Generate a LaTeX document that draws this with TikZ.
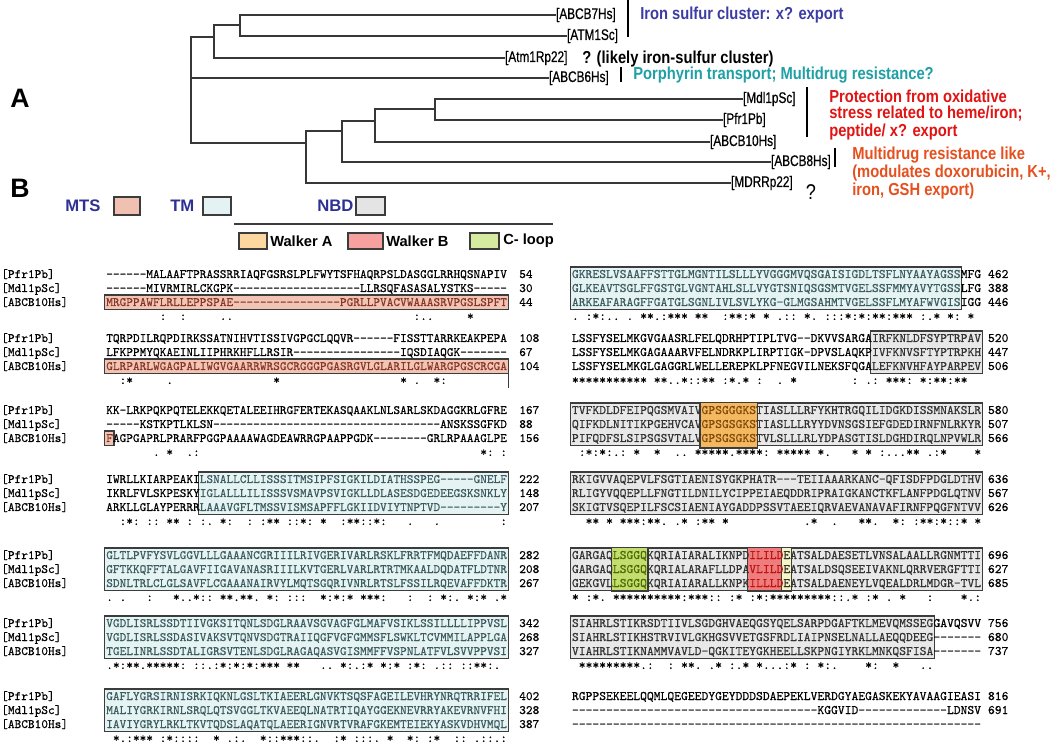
\documentclass[tikz,border=0pt]{standalone}
\usepackage{fontspec}
\setmonofont{Latin Modern Mono}[FakeBold=0.45]
\setsansfont{Liberation Sans}
\newfontfamily\nsf{Liberation Sans}[FakeStretch=0.85]
\newfontfamily\nsfc{Liberation Sans}[FakeStretch=0.77,FakeBold=0.6]
\ExplSyntaxOn
\cs_new:Npn \Dsh #1 { \prg_replicate:nn {#1} {-} }
\ExplSyntaxOff
\definecolor{treeC}{RGB}{55,55,55}
\definecolor{boxC}{RGB}{60,60,60}
\definecolor{cMtsF}{RGB}{242,196,180}
\definecolor{cMtsT}{RGB}{135,55,40}
\definecolor{cTmF}{RGB}{230,243,243}
\definecolor{cTmT}{RGB}{60,92,96}
\definecolor{cNbdF}{RGB}{232,232,232}
\definecolor{cNbdT}{RGB}{50,50,50}
\definecolor{cWaF}{RGB}{243,184,96}
\definecolor{cWaT}{RGB}{130,75,10}
\definecolor{cWbF}{RGB}{240,125,125}
\definecolor{cWbT}{RGB}{190,20,20}
\definecolor{cClF}{RGB}{195,222,110}
\definecolor{cClT}{RGB}{75,105,0}
\definecolor{cYeF}{RGB}{246,246,196}
\definecolor{lgMTS}{RGB}{240,192,176}
\definecolor{lgTM}{RGB}{228,242,244}
\definecolor{lgNBD}{RGB}{228,228,228}
\definecolor{lgWA}{RGB}{253,215,160}
\definecolor{lgWB}{RGB}{247,160,160}
\definecolor{lgCL}{RGB}{215,235,160}
\definecolor{legB}{RGB}{46,49,146}
\definecolor{annBlue}{RGB}{60,60,165}
\definecolor{annTeal}{RGB}{30,160,165}
\definecolor{annRed}{RGB}{225,20,20}
\definecolor{annOr}{RGB}{230,80,30}
\def\XL{106}\def\cwL{6.68}
\def\XR{571.7}\def\cwR{6.82}
\newcounter{tn}
\newcommand\sL[4][]{\stepcounter{tn}\node[sqL,#1] (t\arabic{tn}) at ({\XL+(#2-1)*\cwL},{#3+4}) {#4};}
\newcommand\sR[4][]{\stepcounter{tn}\node[sqR,#1] (t\arabic{tn}) at ({\XR+(#2-1)*\cwR},{#3+4}) {#4};}
\newcommand\numL[2]{\stepcounter{tn}\node[sqL] (t\arabic{tn}) at (519,{#1+4}) {#2};}
\newcommand\numR[2]{\stepcounter{tn}\node[sqR] (t\arabic{tn}) at ({\XR+61*\cwR},{#1+4}) {#2};}
\newcommand\nmsL[1]{%
 \stepcounter{tn}\node[sqL] (t\arabic{tn}) at (1,{#1+4}) {[Pfr1Pb]};
 \stepcounter{tn}\node[sqL] (t\arabic{tn}) at (1,{#1+18}) {[Mdl1pSc]};
 \stepcounter{tn}\node[sqL] (t\arabic{tn}) at (1,{#1+32}) {[ABCB10Hs]};}
\newcommand\cL[2]{\foreach \cA/\sA in {#2}{\stepcounter{tn}\node[sqL] (t\arabic{tn}) at ({\XL+(\cA-1)*\cwL},{#1+4}) {\sA};}}
\newcommand\cR[2]{\foreach \cA/\sA in {#2}{\stepcounter{tn}\node[sqR] (t\arabic{tn}) at ({\XR+(\cA-1)*\cwR},{#1+4}) {\sA};}}
\newcommand\bL[5]{\path[#1] ({\XL+(#2-1)*\cwL-1.3},{#4}) rectangle ({\XL+#3*\cwL+1.3},{#5});}
\newcommand\bR[5]{\path[#1] ({\XR+(#2-1)*\cwR-1.3},{#4}) rectangle ({\XR+#3*\cwR+1.3},{#5});}
\begin{document}
\begin{tikzpicture}[x=0.75pt,y=-0.75pt,
 sqL/.style={font=\ttfamily\fontsize{9.54}{10}\selectfont,inner sep=0pt,anchor=base west,text=black},
 sqR/.style={font=\ttfamily\fontsize{9.74}{10}\selectfont,inner sep=0pt,anchor=base west,text=black},
 mtsT/.style={text=cMtsT}, tmT/.style={text=cTmT}, nbdT/.style={text=cNbdT},
 waT/.style={text=cWaT}, wbT/.style={text=cWbT}, clT/.style={text=cClT},
 mtsB/.style={fill=cMtsF,draw=boxC,line width=0.8pt},
 tmB/.style={fill=cTmF,draw=boxC,line width=0.8pt},
 nbdB/.style={fill=cNbdF,draw=boxC,line width=0.8pt},
 waB/.style={fill=cWaF,draw=boxC,line width=0.8pt},
 wbB/.style={fill=cWbF,draw=boxC,line width=0.8pt},
 clB/.style={fill=cClF,draw=boxC,line width=0.8pt},
 yeB/.style={fill=cYeF,draw=boxC,line width=0.8pt},
 tree/.style={draw=treeC,line width=1.5pt,line cap=rect},
 tlab/.style={font=\nsfc\fontsize{11.5}{13}\selectfont,inner sep=0.6pt,anchor=west},
 ann/.style={font=\nsf\bfseries\fontsize{13}{14}\selectfont,inner sep=0pt,anchor=west},
 bar/.style={draw=black,line width=1.6pt},
 lgt/.style={font=\sffamily\bfseries\fontsize{12.5}{14}\selectfont,text=legB,inner sep=0pt,anchor=west},
 lgw/.style={font=\sffamily\bfseries\fontsize{11}{13}\selectfont,inner sep=0pt,anchor=west},
 lgbox/.style={draw=boxC,line width=0.8pt,inner sep=0pt},
 panel/.style={font=\sffamily\bfseries\fontsize{20}{22}\selectfont,inner sep=0pt}]
\useasboundingbox (0,0) rectangle (1050,755);
\fill[white] (0,0) rectangle (1050,755);
% ---------------- panel A : tree ----------------
\node[panel] (pA) at (20,98) {A};
\node[tlab] (lB7) at (555,15) {[ABCB7Hs]};
\node[tlab] (lAT) at (566,36) {[ATM1Sc]};
\node[tlab] (lAR) at (504,58) {[Atm1Rp22]};
\node[tlab] (lB6) at (548,78) {[ABCB6Hs]};
\node[tlab] (lMd) at (742,99) {[Mdl1pSc]};
\node[tlab] (lPf) at (722,120) {[Pfr1Pb]};
\node[tlab] (lB10) at (709,142) {[ABCB10Hs]};
\node[tlab] (lB8) at (770,162) {[ABCB8Hs]};
\node[tlab] (lMD) at (730,183) {[MDRRp22]};
\coordinate (jB1) at (240,15); \coordinate (jB2) at (240,36);
\coordinate (jA1) at (214,25); \coordinate (jA2) at (214,58);
\coordinate (jR1) at (191,37); \coordinate (jR2) at (191,143);
\coordinate (jC1) at (306,131); \coordinate (jC2) at (306,183);
\coordinate (jD1) at (342,121); \coordinate (jD2) at (342,162);
\coordinate (jE1) at (375,109); \coordinate (jE2) at (375,142);
\coordinate (jF1) at (435,99); \coordinate (jF2) at (435,120);
\draw[tree] (jB1) -- (lB7.west); \draw[tree] (jB2) -- (lAT.west); \draw[tree] (jB1) -- (jB2);
\draw[tree] (jA1) -- (jA1 -| jB1); \draw[tree] (jA1) -- (jA2); \draw[tree] (jA2) -- (lAR.west);
\draw[tree] (jR1) -- (jR2); \draw[tree] (jR1) -- (jR1 -| jA1); \draw[tree] (jR1 |- lB6) -- (lB6.west);
\draw[tree] (jR2) -- (jR2 -| jC1); \draw[tree] (jC1) -- (jC2); \draw[tree] (jC2) -- (lMD.west);
\draw[tree] (jC1) -- (jC1 -| jD1); \draw[tree] (jD1) -- (jD2); \draw[tree] (jD2) -- (lB8.west);
\draw[tree] (jD1) -- (jD1 -| jE1); \draw[tree] (jE1) -- (jE2); \draw[tree] (jE2) -- (lB10.west);
\draw[tree] (jE1) -- (jE1 -| jF1); \draw[tree] (jF1) -- (jF2); \draw[tree] (jF1) -- (lMd.west); \draw[tree] (jF2) -- (lPf.west);
\coordinate (br1a) at (628,0); \coordinate (br1b) at (628,37);
\coordinate (br2a) at (621,67); \coordinate (br2b) at (621,82);
\coordinate (br3a) at (807,87); \coordinate (br3b) at (807,137);
\coordinate (br4a) at (835,148); \coordinate (br4b) at (835,167);
\draw[bar] (br1a) -- (br1b); \draw[bar] (br2a) -- (br2b);
\draw[bar] (br3a) -- (br3b); \draw[bar] (br4a) -- (br4b);
\node[ann,text=annBlue] (aIron) at (640,15) {Iron sulfur cluster: x? export};
\node[ann] (aLik) at (582,59) {? (likely iron-sulfur cluster)};
\node[ann,text=annTeal] (aPor) at (633,75) {Porphyrin transport; Multidrug resistance?};
\node[ann,text=annRed] (aPr1) at (829,96) {Protection from oxidative};
\node[ann,text=annRed] (aPr2) at (829,114) {stress related to heme/iron;};
\node[ann,text=annRed] (aPr3) at (829,132) {peptide/ x? export};
\node[ann,text=annOr] (aMu1) at (852,155) {Multidrug resistance like};
\node[ann,text=annOr] (aMu2) at (852,173.5) {(modulates doxorubicin, K+,};
\node[ann,text=annOr] (aMu3) at (852,191.5) {iron, GSH export)};
\node[font=\nsf\fontsize{16}{18}\selectfont,inner sep=0pt] (aQ) at (811,192) {?};
% ---------------- panel B : legend ----------------
\node[panel] (pB) at (20,188) {B};
\node[lgt] (lgMt) at (65,206) {MTS};
\node[lgbox,fill=lgMTS,minimum width=19.5pt,minimum height=13.5pt] (lgMtB) at (127,206) {};
\node[lgt] (lgTm) at (170,206) {TM};
\node[lgbox,fill=lgTM,minimum width=21pt,minimum height=13.5pt] (lgTmB) at (217,206) {};
\node[lgt] (lgNb) at (317,206) {NBD};
\node[lgbox,fill=lgNBD,minimum width=21.75pt,minimum height=13.5pt] (lgNbB) at (370.5,206) {};
\coordinate (lgL1) at (234,224); \coordinate (lgL2) at (553,224);
\draw[boxC,line width=0.8pt] (lgL1) -- (lgL2);
\node[lgbox,fill=lgWA,minimum width=21pt,minimum height=12pt] (lgWaB) at (253,241) {};
\node[lgw] (lgWa) at (270,241) {Walker A};
\node[lgbox,fill=lgWB,minimum width=26.25pt,minimum height=12pt] (lgWbB) at (365.5,241) {};
\node[lgw] (lgWb) at (386,241) {Walker B};
\node[lgbox,fill=lgCL,minimum width=21.75pt,minimum height=12pt] (lgClB) at (484.5,241) {};
\node[lgw] (lgCl) at (503,241) {C- loop};
% ---------------- left column ----------------
% block 1 (274)
\bL{mtsB}{1}{60}{295}{309.5}
\nmsL{274}
\sL{1}{274}{------MALAAFTPRASSRRIAQFGSRSLPLFWYTSFHAQRPSLDASGGLRRHQSNAPIV}
\sL{1}{288}{\Dsh{6}MIVRMIRLCKGPK\Dsh{19}LLRSQFASASALYSTKS\Dsh{5}}
\sL[mtsT]{1}{302}{MRGPPAWFLRLLEPPSPAE\Dsh{16}PGRLLPVACVWAAASRVPGSLSPFT}
\numL{274}{54}\numL{288}{30}\numL{302}{44}
\cL{316}{9/:,12/:,18/..,47/:..,55/*}
% block 2 (338)
\bL{mtsB}{1}{60}{359}{373.5}
\coordinate (ext1) at ({\XL+60*\cwL+1.3},373.5); \coordinate (ext2) at ({\XL+60*\cwL+1.3},388);
\draw[boxC,line width=0.8pt] (ext1) -- (ext2);
\nmsL{338}
\sL{1}{338}{TQRPDILRQPDIRKSSATNIHVTISSIVGPGCLQQVR\Dsh{6}FISSTTARRKEAKPEPA}
\sL{1}{352}{LFKPPMYQKAEINLIIPHRKHFLLRSIR\Dsh{16}IQSDIAQGK\Dsh{7}}
\sL[mtsT]{1}{366}{GLRPARLWGAGPALIWGVGAARRWRSGCRGGGPGASRGVLGLARILGLWARGPGSCRCGA}
\numL{338}{108}\numL{352}{67}\numL{366}{104}
\cL{380}{3/:*,10/.,26/*,45/*,47/.,50/*:}
% block 3 (410)
\bL{mtsB}{1}{1}{431}{445.5}
\nmsL{410}
\sL{1}{410}{KK-LRKPQKPQTELEKKQETALEEIHRGFERTEKASQAAKLNLSARLSKDAGGKRLGFRE}
\sL{1}{424}{\Dsh{5}KSTKPTLKLSN\Dsh{34}ANSKSSGFKD}
\sL[mtsT]{1}{438}{F}
\sL{2}{438}{AGPGAPRLPRARFPGGPAAAAWAGDEAWRRGPAAPPGDK\Dsh{8}GRLRPAAAGLPE}
\numL{410}{167}\numL{424}{88}\numL{438}{156}
\cL{452}{8/.,10/*,13/.:,57/*:,60/:}
% block 4 (479)
\bL{tmB}{15}{60}{472}{514.5}
\nmsL{479}
\sL{1}{479}{IWRLLKIARPEAKI}
\sL[tmT]{15}{479}{LSNALLCLLISSSITMSIPFSIGKILDIATHSSPEG\Dsh{5}GNELF}
\sL{1}{493}{IKRLFVLSKPESKY}
\sL[tmT]{15}{493}{IGLALLLILISSSVSMAVPSVIGKLLDLASESDGEDEEGSKSNKLY}
\sL{1}{507}{ARKLLGLAYPERRR}
\sL[tmT]{15}{507}{LAAAVGFLTMSSVISMSAPFFLGKIIDVIYTNPTVD\Dsh{9}Y}
\numL{479}{222}\numL{493}{148}\numL{507}{207}
\cL{521}{3/:*:,7/::,10/**,13/:,15/:.,18/*:,22/:,24/:**,28/::*:,33/*,36/:**::*:,46/.,50/.,60/:}
% block 5 (555)
\bL{tmB}{1}{60}{548}{590.5}
\nmsL{555}
\sL[tmT]{1}{555}{GLTLPVFYSVLGGVLLLGAAANCGRIIILRIVGERIVARLRSKLFRRTFMQDAEFFDANR}
\sL[tmT]{1}{569}{GFTKKQFFTALGAVFIIGAVANASRIIILKVTGERLVARLRTRTMKAALDQDATFLDTNR}
\sL[tmT]{1}{583}{SDNLTRLCLGLSAVFLCGAAANAIRVYLMQTSGQRIVNRLRTSLFSSILRQEVAFFDKTR}
\numL{555}{282}\numL{569}{208}\numL{583}{267}
\cL{597}{1/.,3/.,7/:,11/*..*::,18/**.**.,25/*:,28/:::,33/*:*:*,39/***:,46/:,49/:,51/*:.,55/*:*,59/.*}
% block 6 (623)
\bL{tmB}{1}{60}{616}{658.5}
\nmsL{623}
\sL[tmT]{1}{623}{VGDLISRLSSDTIIVGKSITQNLSDGLRAAVSGVAGFGLMAFVSIKLSSILLLLIPPVSL}
\sL[tmT]{1}{637}{VGDLISRLSSDASIVAKSVTQNVSDGTRAIIQGFVGFGMMSFLSWKLTCVMMILAPPLGA}
\sL[tmT]{1}{651}{TGELINRLSSDTALIGRSVTENLSDGLRAGAQASVGISMMFFVSPNLATFVLSVVPPVSI}
\numL{623}{342}\numL{637}{268}\numL{651}{327}
\cL{665}{1/.*:**.*****:,14/::.:*:*:*:***,28/**,33/..,36/*:.:*,42/*:*,46/:*:,50/.::,54/::,56/**:.}
% block 7 (696)
\bL{tmB}{1}{60}{689}{731.5}
\nmsL{696}
\sL[tmT]{1}{696}{GAFLYGRSIRNISRKIQKNLGSLTKIAEERLGNVKTSQSFAGEILEVHRYNRQTRRIFEL}
\sL[tmT]{1}{710}{MALIYGRKIRNLSRQLQTSVGGLTKVAEEQLNATRTIQAYGGEKNEVRRYAKEVRNVFHI}
\sL[tmT]{1}{724}{IAVIYGRYLRKLTKVTQDSLAQATQLAEERIGNVRTVRAFGKEMTEIEKYASKVDHVMQL}
\numL{696}{402}\numL{710}{328}\numL{724}{387}
\cL{738}{2/*.:***,9/:*::::,17/*,19/.:.,24/*::***::.,35/:*,38/:::.,43/*,46/*:,49/:*,53/::,56/.::.:}
% ---------------- right column ----------------
% block 1
\bR{tmB}{1}{57}{267}{309.5}
\sR[tmT]{1}{274}{GKRESLVSAAFFSTTGLMGNTILSLLLYVGGGMVQSGAISIGDLTSFLNYAAYAGSS}\sR{58}{274}{MFG}
\sR[tmT]{1}{288}{GLKEAVTSGLFFGSTGLVGNTAHLSLLVYGTSNIQSGSMTVGELSSFMMYAVYTGSS}\sR{58}{288}{LFG}
\sR[tmT]{1}{302}{ARKEAFARAGFFGATGLSGNLIVLSVLYKG-GLMGSAHMTVGELSSFLMYAFWVGIS}\sR{58}{302}{IGG}
\numR{274}{462}\numR{288}{388}\numR{302}{446}
\cR{316}{1/.,3/:*:..,9/.,11/**.:***,19/**,23/:**:*,29/*,31/.::,35/*.,38/:::*:*:**:***,52/:.*,56/*:,59/*}
% block 2
\bR{nbdB}{45}{60}{331}{373.5}
\sR{1}{338}{LSSFYSELMKGVGAASRLFELQDRHPTIPLTVG--DKVVSARGA}\sR[nbdT]{45}{338}{IRFKNLDFSYPTRPAV}
\sR{1}{352}{LSSFYSELMKGAGAAARVFELNDRKPLIRPTIGK-DPVSLAQKP}\sR[nbdT]{45}{352}{IVFKNVSFTYPTRPKH}
\sR{1}{366}{LSSFYSELMKGLGAGGRLWELLEREPKLPFNEGVILNEKSFQGA}\sR[nbdT]{45}{366}{LEFKNVHFAYPARPEV}
\numR{338}{520}\numR{352}{447}\numR{366}{506}
\cR{380}{1/***********,13/**..*::**,23/:*.*,28/:,31/.,33/*,42/:,44/.:,47/***:,52/*:**:**}
% block 3
\bR{nbdB}{1}{60}{403}{445.5}
\bR{waB}{20}{27}{402.5}{448}
\sR[nbdT]{1}{410}{TVFKDLDFEIPQGSMVAIV}\sR[waT]{20}{410}{GPSGGGKS}\sR[nbdT]{28}{410}{TIASLLLRFYKHTRGQILIDGKDISSMNAKSLR}
\sR[nbdT]{1}{424}{QIFKDLNITIKPGEHVCAV}\sR[waT]{20}{424}{GPSGSGKS}\sR[nbdT]{28}{424}{TIASLLLRYYDVNSGSIEFGDEDIRNFNLRKYR}
\sR[nbdT]{1}{438}{PIFQDFSLSIPSGSVTALV}\sR[waT]{20}{438}{GPSGSGKS}\sR[nbdT]{28}{438}{TVLSLLLRLYDPASGTISLDGHDIRQLNPVWLR}
\numR{410}{580}\numR{424}{507}\numR{438}{566}
\cR{452}{2/:*:*:.:,10/*,13/*,16/..,19/*****.****:,31/*****,37/*.,42/*,44/*,46/:..,49/.,50/**,53/.:*,60/*}
% block 4
\bR{nbdB}{1}{60}{472}{514.5}
\sR[nbdT]{1}{479}{RKIGVVAQEPVLFSGTIAENISYGKPHATR---TEIIAAARKANC-QFISDFPDGLDTHV}
\sR[nbdT]{1}{493}{RLIGYVQQEPLLFNGTILDNILYCIPPEIAEQDDRIPRAIGKANCTKFLANFPDGLQTNV}
\sR[nbdT]{1}{507}{SKIGTVSQEPILFSCSIAENIAYGADDPSSVTAEEIQRVAEVANAVAFIRNFPQGFNTVV}
\numR{479}{636}\numR{493}{567}\numR{507}{626}
\cR{521}{3/**,6/*,8/***:**.,16/.*,19/:**,23/*,35/.*,39/.,43/**.,48/*:,51/:**:*::*,60/*}
% block 5
\bR{nbdB}{1}{60}{548}{590.5}
\bR{clB}{7}{11}{547.5}{591}
\bR{wbB}{27}{31}{547.5}{591}
\bR{yeB}{32}{32}{547.5}{591}
\sR[nbdT]{1}{555}{GARGAQ}\sR[clT]{7}{555}{LSGGQ}\sR[nbdT]{12}{555}{KQRIAIARALIKNPD}\sR[wbT]{27}{555}{ILILD}\sR[nbdT]{32}{555}{EATSALDAESETLVNSALAALLRGNMTTI}
\sR[nbdT]{1}{569}{GARGAQ}\sR[clT]{7}{569}{LSGGQ}\sR[nbdT]{12}{569}{KQRIALARAFLLDPA}\sR[wbT]{27}{569}{VLILD}\sR[nbdT]{32}{569}{EATSALDSQSEEIVAKNLQRRVERGFTTI}
\sR[nbdT]{1}{583}{GEKGVL}\sR[clT]{7}{583}{LSGGQ}\sR[nbdT]{12}{583}{KQRIAIARALLKNPK}\sR[wbT]{27}{583}{ILLLD}\sR[nbdT]{32}{583}{EATSALDAENEYLVQEALDRLMDGR-TVL}
\numR{555}{696}\numR{569}{627}\numR{583}{685}
\cR{597}{1/*,3/:*.,7/**********:***::,24/:*,27/:*:*********,39/::.*,44/:*,47/.,49/*,53/:,58/*.:}
% block 6
\bR{nbdB}{1}{53}{616}{658.5}
\sR[nbdT]{1}{623}{SIAHRLSTIKRSDTIIVLSGDGHVAEQGSYQELSARPDGAFTKLMEVQMSSEG}\sR{54}{623}{GAVQSVV}
\sR[nbdT]{1}{637}{SIAHRLSTIKHSTRVIVLGKHGSVVETGSFRDLIAIPNSELNALLAEQQDEEG}\sR{54}{637}{\Dsh{7}}
\sR[nbdT]{1}{651}{VIAHRLSTIKNAMMVAVLD-QGKITEYGKHEELLSKPNGIYRKLMNKQSFISA}\sR{54}{651}{\Dsh{7}}
\numR{623}{756}\numR{637}{680}\numR{651}{737}
\cR{665}{2/*********.:,15/:,17/**.,21/.*,24/:.*,28/*..,31/.:*,35/:,37/*:.,44/*:,48/*,52/..}
% block 7
\sR{1}{696}{RGPPSEKEELQQMLQEGEEDYGEYDDDSDAEPEKLVERDGYAEGASKEKYAVAAGIEASI}
\sR{1}{710}{\Dsh{36}KGGVID\Dsh{13}LDNSV}
\sR{1}{724}{\Dsh{60}}
\numR{696}{816}\numR{710}{691}
\end{tikzpicture}
\end{document}
